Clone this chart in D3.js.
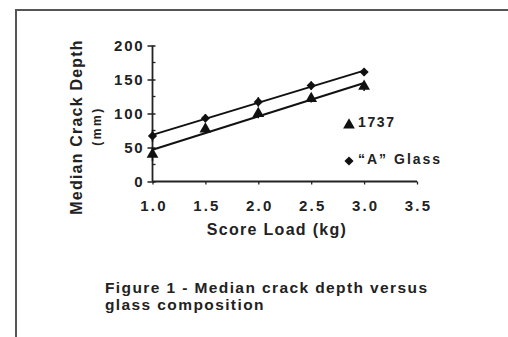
<!DOCTYPE html>
<html>
<head>
<meta charset="utf-8">
<script src="https://cdn.jsdelivr.net/npm/d3@7"></script>
<style>
  body { margin: 0; background: #fff; }
  svg { display: block; }
  text { font-family: "Liberation Sans", Arial, sans-serif; font-weight: bold; fill: #222; }
</style>
</head>
<body>
<svg id="chart" width="508" height="337"></svg>
<script>
// Median crack depth (mm) vs score load (kg)
var loads = [1.0, 1.5, 2.0, 2.5, 3.0];
var depth1737 = [40, 77, 100, 122, 140];
var depthA = [67, 93, 117, 141, 161];
var err1737 = [10, 7, 7, 6, 7];
var errA = [9, 6, 7, 6, 5];
var xTicks = [1.0, 1.5, 2.0, 2.5, 3.0, 3.5];
var yTicks = [0, 50, 100, 150, 200];
var yMinor = [25, 75, 125, 175];
var legendNames = ["1737", "\u201cA\u201d Glass"];

var svg = d3.select("#chart");

// page frame (top and left rules)
svg.append("path")
    .attr("d", "M16,337 V10 H508")
    .attr("fill", "none")
    .attr("stroke", "#555")
    .attr("stroke-width", 2);

var x = d3.scaleLinear().domain([1.0, 3.5]).range([152.5, 417]);
var y = d3.scaleLinear().domain([0, 200]).range([181.5, 45.5]);

var g = svg.append("g");

// y axis
var yAxis = g.append("g")
    .attr("transform", "translate(" + x(1.0) + ",0)")
    .call(d3.axisLeft(y).tickValues(yTicks).tickFormat(d3.format("d")).tickSize(5).tickPadding(3));
yAxis.select(".domain").attr("stroke", "#222").attr("stroke-width", 1.8).attr("d", "M0," + y(200) + "V" + y(0));
yAxis.selectAll(".tick line").attr("stroke", "#222").attr("stroke-width", 1.5).attr("x2", -5).attr("x1", 3);
yAxis.selectAll(".tick text")
    .style("font-size", "15px").style("letter-spacing", "1.8px")
    .style("font-family", "Liberation Sans, Arial, sans-serif").style("font-weight", "bold")
    .attr("fill", "#222").attr("dy", "0.36em");
yAxis.selectAll(".minor")
    .data(yMinor).enter().append("line")
    .attr("x1", 0).attr("x2", 3)
    .attr("y1", function(d) { return y(d); })
    .attr("y2", function(d) { return y(d); })
    .attr("stroke", "#222").attr("stroke-width", 1.3);

// x axis
var xAxis = g.append("g")
    .attr("transform", "translate(0," + y(0) + ")")
    .call(d3.axisBottom(x).tickValues(xTicks).tickFormat(d3.format(".1f")).tickSize(3).tickPadding(16));
xAxis.select(".domain").attr("stroke", "#222").attr("stroke-width", 1.8).attr("d", "M" + x(1.0) + ",0H" + x(3.5));
xAxis.selectAll(".tick line").attr("stroke", "#222").attr("stroke-width", 1.3);
xAxis.selectAll(".tick text")
    .style("font-size", "15px").style("letter-spacing", "2.2px")
    .style("font-family", "Liberation Sans, Arial, sans-serif").style("font-weight", "bold")
    .attr("fill", "#222").attr("dx", "1px");

// axis titles
svg.append("text")
    .attr("x", 277).attr("y", 235)
    .attr("text-anchor", "middle")
    .style("font-size", "16px").style("letter-spacing", "1.3px")
    .text("Score Load (kg)");
svg.append("text")
    .attr("transform", "translate(82,127) rotate(-90)")
    .attr("text-anchor", "middle")
    .style("font-size", "16px").style("letter-spacing", "1.2px")
    .text("Median Crack Depth");
svg.append("text")
    .attr("transform", "translate(101,126) rotate(-90)")
    .attr("text-anchor", "middle")
    .style("font-size", "12px").style("letter-spacing", "2.5px")
    .text("(mm)");

// regression lines
function fit(xs, ys) {
    var mx = d3.mean(xs), my = d3.mean(ys);
    var sxy = d3.sum(xs, function(v, i) { return (v - mx) * (ys[i] - my); });
    var sxx = d3.sum(xs, function(v) { return (v - mx) * (v - mx); });
    var b = sxy / sxx;
    return function(v) { return my + b * (v - mx); };
}
var series = [
    {name: legendNames[0], vals: depth1737, err: err1737, sym: d3.symbolTriangle, size: 60, rot: 0},
    {name: legendNames[1], vals: depthA, err: errA, sym: d3.symbolSquare, size: 42, rot: 45}
];

series.forEach(function(s) {
    var f = fit(loads, s.vals);
    var ends = [loads[0], loads[loads.length - 1]];
    g.append("path")
        .attr("d", d3.line().x(function(d) { return x(d); }).y(function(d) { return y(f(d)); })(ends))
        .attr("stroke", "#111").attr("stroke-width", 2).attr("fill", "none");

    g.selectAll(null).data(loads).enter().append("line")
        .attr("x1", function(d) { return x(d); })
        .attr("x2", function(d) { return x(d); })
        .attr("y1", function(d, i) { return y(s.vals[i] - s.err[i]); })
        .attr("y2", function(d, i) { return y(s.vals[i] + s.err[i]); })
        .attr("stroke", "#111").attr("stroke-width", 1.5);

    g.selectAll(null).data(loads).enter().append("path")
        .attr("transform", function(d, i) {
            return "translate(" + x(d) + "," + y(s.vals[i]) + ") rotate(" + s.rot + ")";
        })
        .attr("d", d3.symbol().type(s.sym).size(s.size))
        .attr("fill", "#111");
});

// legend
var legend = svg.append("g");
var legendY = [125, 161];
series.forEach(function(s, i) {
    var ly = legendY[i];
    legend.append("path")
        .attr("transform", "translate(349," + ly + ") rotate(" + s.rot + ")")
        .attr("d", d3.symbol().type(s.sym).size(s.size))
        .attr("fill", "#111");
    legend.append("text")
        .attr("x", 358).attr("y", ly + (i === 0 ? 2 : 3))
        .style("font-size", "14px").style("letter-spacing", i === 0 ? "1.6px" : "2px")
        .text(s.name);
});

// caption
svg.append("text")
    .attr("x", 105).attr("y", 293)
    .style("font-size", "15.5px").style("letter-spacing", "1.4px")
    .text("Figure 1 - Median crack depth versus");
svg.append("text")
    .attr("x", 105).attr("y", 310)
    .style("font-size", "15.5px").style("letter-spacing", "1.4px")
    .text("glass composition");
</script>
</body>
</html>
